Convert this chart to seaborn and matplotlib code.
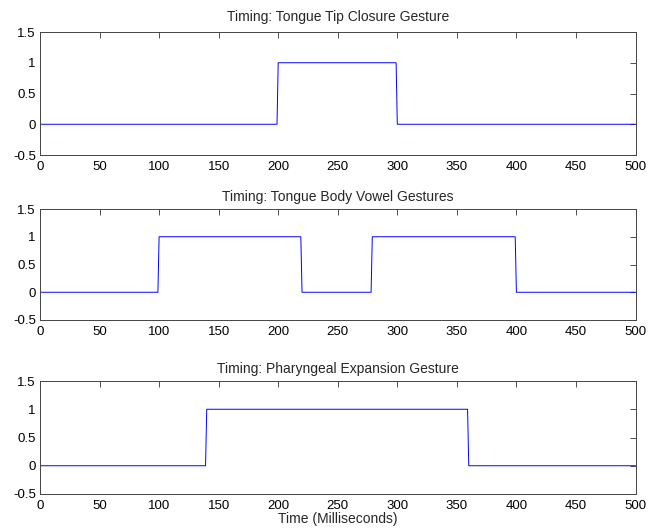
import matplotlib
matplotlib.use("Agg")
import matplotlib.pyplot as plt
import seaborn as sns
import pandas as pd

sns.set_theme(style="white")
plt.rcParams['font.family'] = ['Liberation Sans', 'DejaVu Sans']

titles = ["Timing: Tongue Tip Closure Gesture",
          "Timing: Tongue Body Vowel Gestures",
          "Timing: Pharyngeal Expansion Gesture"]

t1 = [0, 199, 200, 299, 300, 500]
v1 = [0, 0, 1, 1, 0, 0]
t2 = [0, 99, 100, 219, 220, 278, 279, 399, 400, 500]
v2 = [0, 0, 1, 1, 0, 0, 1, 1, 0, 0]
t3 = [0, 139, 140, 359, 360, 500]
v3 = [0, 0, 1, 1, 0, 0]

xticks = list(range(0, 501, 50))
yticks = [-0.5, 0, 0.5, 1, 1.5]
ytlabels = ["-0.5", "0", "0.5", "1", "1.5"]

series = [(t1, v1), (t2, v2), (t3, v3)]

W, H = 663, 528
fig = plt.figure(figsize=(W / 100, H / 100), dpi=100)
left, right = 40, 635.5
boxes = [(32, 155), (209, 320), (381, 494)]
title_pads = [8, 6, 6]

for i, ((t, v), (top, bot)) in enumerate(zip(series, boxes)):
    ax = fig.add_axes([left / W, 1 - bot / H, (right - left) / W, (bot - top) / H])
    df = pd.DataFrame({"t": t, "v": v})
    sns.lineplot(data=df, x="t", y="v", ax=ax, color="#0000ff", linewidth=0.7,
                 estimator=None, sort=False)
    ax.set_xlim(0, 500)
    ax.set_ylim(-0.5, 1.5)
    ax.set_xticks(xticks)
    ax.set_xticklabels([str(x) for x in xticks])
    ax.set_yticks(yticks)
    ax.set_yticklabels(ytlabels)
    ax.tick_params(direction="in", length=4, width=0.6, color="#333333",
                   labelsize=9.5, labelcolor="black", top=True, right=True)
    ax.tick_params(axis="x", pad=4)
    ax.tick_params(axis="y", pad=3)
    for s in ax.spines.values():
        s.set_visible(True)
        s.set_color("#444444")
        s.set_linewidth(0.7)
    ax.set_title(titles[i], fontsize=10, pad=title_pads[i])
    ax.set_ylabel("")
    if i == 2:
        ax.set_xlabel("Time (Milliseconds)", fontsize=10, labelpad=0)
    else:
        ax.set_xlabel("")
    ax.grid(False)

fig.savefig("out.png", dpi=100, facecolor="white")
